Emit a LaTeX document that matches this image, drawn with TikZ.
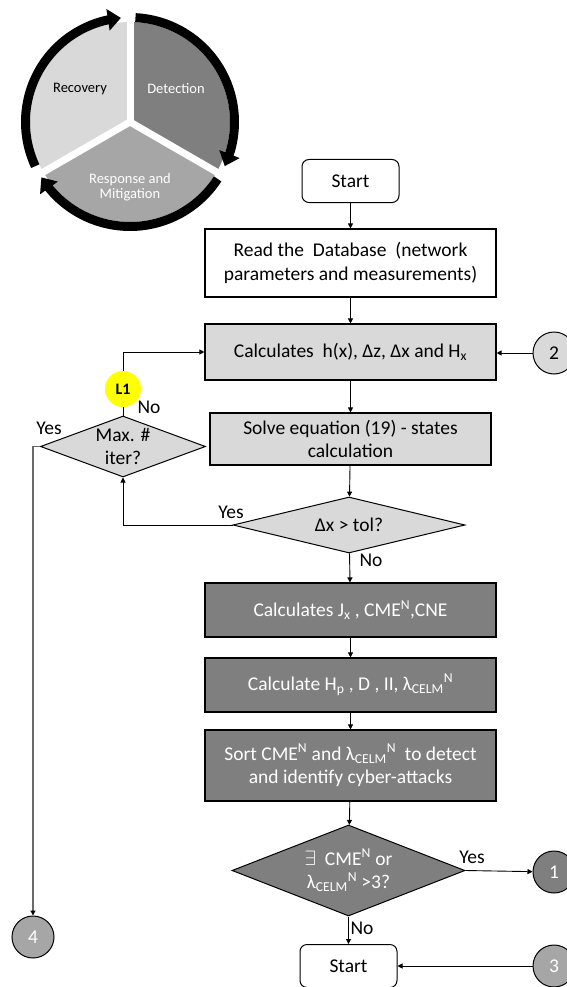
\documentclass[tikz,border=0pt]{standalone}
\usepackage{fontspec}
\setmainfont{Carlito}
\usetikzlibrary{shapes.geometric,arrows.meta,bending}

\definecolor{lightbox}{HTML}{D9D9D9}
\definecolor{midbox}{HTML}{A6A6A6}
\definecolor{darkbox}{HTML}{7F7F7F}
\definecolor{trackgray}{HTML}{6A6A6A}
\definecolor{marker}{HTML}{FFFF00}

\tikzset{
  flowtext/.style={font=\fontsize{19.5}{23.5}\selectfont, align=center},
  procbox/.style={rectangle, draw=black, line width=1.1pt, minimum width=291pt,
    inner sep=0pt, flowtext},
  plainproc/.style={procbox, fill=white},
  lightproc/.style={procbox, fill=lightbox},
  darkproc/.style={procbox, fill=darkbox, text=white},
  terminal/.style={rectangle, draw=black, line width=1pt, rounded corners=7pt,
    minimum width=97pt, minimum height=43pt, inner sep=0pt, fill=white, flowtext},
  decision/.style={diamond, draw=black, line width=1pt, inner sep=0pt},
  offpage/.style={circle, draw=black, line width=1pt, minimum size=42pt,
    inner sep=0pt, flowtext},
  answer/.style={font=\fontsize{19.5}{23.5}\selectfont, inner sep=0pt},
  flow/.style={draw=black, line width=0.9pt, -{Triangle[length=5pt,width=5pt]}},
  longflow/.style={draw=trackgray, line width=1.8pt,
    -{Triangle[length=5pt,width=5pt,color=black]}},
  ringarrow/.style={line width=9pt, -{Triangle[length=13pt,width=21pt,flex]}},
  phasetext/.style={font=\fontsize{14.5}{14.5}\selectfont, align=center, inner sep=0pt},
}

\begin{document}
\begin{tikzpicture}[x=1pt, y=-1pt]
\useasboundingbox (0,0) rectangle (567,987);

% ---------- incident response cycle ----------
\begin{scope}[shift={(130,122)}, yscale=-1]
  \fill[lightbox] (0,0) -- (90:100) arc[start angle=90, end angle=210, radius=100] -- cycle;
  \fill[darkbox]  (0,0) -- (90:100) arc[start angle=90, end angle=-30, radius=100] -- cycle;
  \fill[midbox]   (0,0) -- (-30:100) arc[start angle=-30, end angle=-150, radius=100] -- cycle;
  \foreach \a in {90,-30,210}
    \draw[white, line width=7pt] (0,0) -- (\a:106);
  \draw[ringarrow] (87:104.5) arc[start angle=87, end angle=-25, radius=104.5];
  \draw[ringarrow] (-33:104.5) arc[start angle=-33, end angle=-148, radius=104.5];
  \draw[ringarrow] (205:104.5) arc[start angle=205, end angle=95, radius=104.5];
  \node[phasetext] (recovery) at (-50,33) {Recovery};
  \node[phasetext, text=white] (detection) at (46,33) {Detection};
  \node[phasetext, text=white] (response) at (0,-65) {Response and\\Mitigation};
\end{scope}

% ---------- flowchart nodes ----------
\node[terminal] (start) at (350.5,181) {Start};
\node[plainproc, minimum height=68pt] (read) at (350.5,263)
  {Read the\ \ Database\ \ (network\\parameters and measurements)};
\node[lightproc, minimum height=56pt] (calc) at (350.5,352)
  {Calculates\ \ h(x), Δz, Δx and H\textsubscript{x}};
\node[lightproc, minimum width=281pt, minimum height=52pt] (solve) at (350.5,439)
  {Solve equation (19) - states\\calculation};
\node[decision, fill=lightbox, minimum width=232pt, minimum height=56pt, aspect=4.1,
  label={[flowtext]center:Δx > tol?}] (tol) at (349,525) {};
\node[decision, fill=lightbox, minimum width=165pt, minimum height=61pt, aspect=2.7,
  label={[flowtext]center:Max. \#\\iter?}] (maxit) at (123,446.5) {};
\node[darkproc, minimum height=54pt] (jac) at (350.5,610)
  {Calculates J\textsubscript{x} , CME\textsuperscript{N},CNE};
\node[darkproc, minimum height=54pt] (hat) at (350.5,685)
  {Calculate H\textsubscript{p} , D , II, λ\textsubscript{CELM}\textsuperscript{N}};
\node[darkproc, minimum height=71pt] (sort) at (350.5,765.5)
  {Sort CME\textsuperscript{N} and λ\textsubscript{CELM}\textsuperscript{N}\ \ to detect\\and identify cyber-attacks};
\node[decision, fill=darkbox, minimum width=233pt, minimum height=91pt, aspect=2.56,
  label={[flowtext, text=white]center:$\exists$\ \ CME\textsuperscript{N} or\\λ\textsubscript{CELM}\textsuperscript{N} >3?}]
  (attack) at (348.5,870.5) {};
\node[terminal] (finish) at (348.5,966) {Start};

\node[offpage, fill=darkbox, text=white] (c1) at (554,872) {1};
\node[offpage, fill=lightbox] (c2) at (554,353) {2};
\node[offpage, fill=midbox, text=white] (c3) at (554,966) {3};
\node[offpage, fill=midbox, text=white] (c4) at (33,937) {4};

% ---------- connectors ----------
\draw[flow] (start) -- (read);
\draw[flow] (read) -- (calc);
\draw[flow] (calc) -- (solve);
\draw[flow] (solve) -- (tol);
\draw[flow] (tol) -- (jac);
\draw[flow] (jac) -- (hat);
\draw[flow] (hat) -- (sort);
\draw[flow] (sort) -- (attack);
\draw[flow] (attack) -- (finish);
\draw[flow] (attack.east) -- (c1);
\draw[flow] (c2) -- (c2 -| calc.east);
\draw[flow] (c3) -- (finish);
\draw[flow] (tol.west) -| (maxit.south);
\draw[flow] (maxit.north) |- (calc.west);
\draw[longflow] (maxit.west) -| (c4.north);

\node[circle, fill=marker, minimum size=36pt, inner sep=0pt,
  font=\fontsize{16}{16}\selectfont\bfseries] (loop) at (123,389) {L1};

% ---------- branch labels ----------
\node[answer] (noiter) at (149,407) {No};
\node[answer] (yesiter) at (49,428) {Yes};
\node[answer] (yestol) at (231,512) {Yes};
\node[answer] (notol) at (371,560) {No};
\node[answer] (yesatk) at (472,857) {Yes};
\node[answer] (noatk) at (362,928) {No};
\end{tikzpicture}
\end{document}
